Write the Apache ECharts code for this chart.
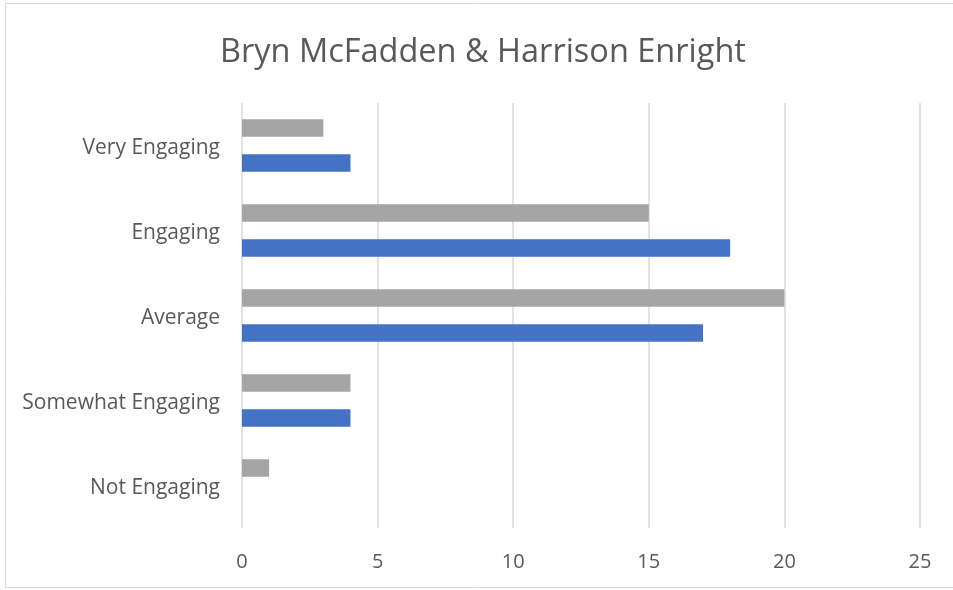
<!DOCTYPE html>
<html lang="en">
<head>
    <meta charset="UTF-8">
    <title>Bryn McFadden & Harrison Enright</title>
    <script src="https://cdn.jsdelivr.net/npm/echarts@6/dist/echarts.min.js"></script>
    <style>
        html, body { margin: 0; padding: 0; background: #fff; }
    </style>
</head>
<body>
<div id="chart" style="width: 953px; height: 590px;"></div>
<script>
    var categories = ['Not Engaging', 'Somewhat Engaging', 'Average', 'Engaging', 'Very Engaging'];
    var grayValues = [1, 4, 20, 15, 3];
    var blueValues = [0, 4, 17, 18, 4];
    var xTicks = [0, 5, 10, 15, 20, 25];

    var chart = echarts.init(document.getElementById('chart'));
    var font = 'Open Sans';

    chart.setOption({
        animation: false,
        title: {
            text: 'Bryn McFadden & Harrison Enright',
            left: 215,
            top: 31,
            textStyle: {
                color: '#595959',
                fontFamily: font,
                fontSize: 32.5,
                fontWeight: 'normal'
            }
        },
        graphic: [{
            type: 'rect',
            shape: { x: 5.5, y: 3.5, width: 960, height: 584 },
            style: { fill: 'none', stroke: '#D9D9D9', lineWidth: 1 },
            silent: true
        }],
        grid: {
            left: 242,
            right: 33,
            top: 103,
            bottom: 62
        },
        xAxis: {
            type: 'value',
            min: xTicks[0],
            max: xTicks[xTicks.length - 1],
            interval: 5,
            axisLine: { show: false },
            axisTick: { show: false },
            axisLabel: {
                color: '#595959',
                fontFamily: font,
                fontSize: 20,
                margin: 24
            },
            splitLine: { lineStyle: { color: '#D9D9D9', width: 1.5 } }
        },
        yAxis: {
            type: 'category',
            data: categories,
            axisLine: { show: false },
            axisTick: { show: false },
            axisLabel: {
                margin: 22,
                formatter: '{a|{value}}',
                rich: {
                    a: {
                        color: '#595959',
                        fontFamily: font,
                        fontSize: 21,
                        padding: [6, 0, 0, 0]
                    }
                }
            }
        },
        series: [{
            name: 'Bryn McFadden',
            type: 'bar',
            data: grayValues,
            barWidth: 17.5,
            barGap: '100%',
            itemStyle: { color: '#A5A5A5' }
        }, {
            name: 'Harrison Enright',
            type: 'bar',
            data: blueValues,
            barWidth: 17.5,
            barGap: '100%',
            itemStyle: { color: '#4472C4' }
        }]
    });
</script>
</body>
</html>
